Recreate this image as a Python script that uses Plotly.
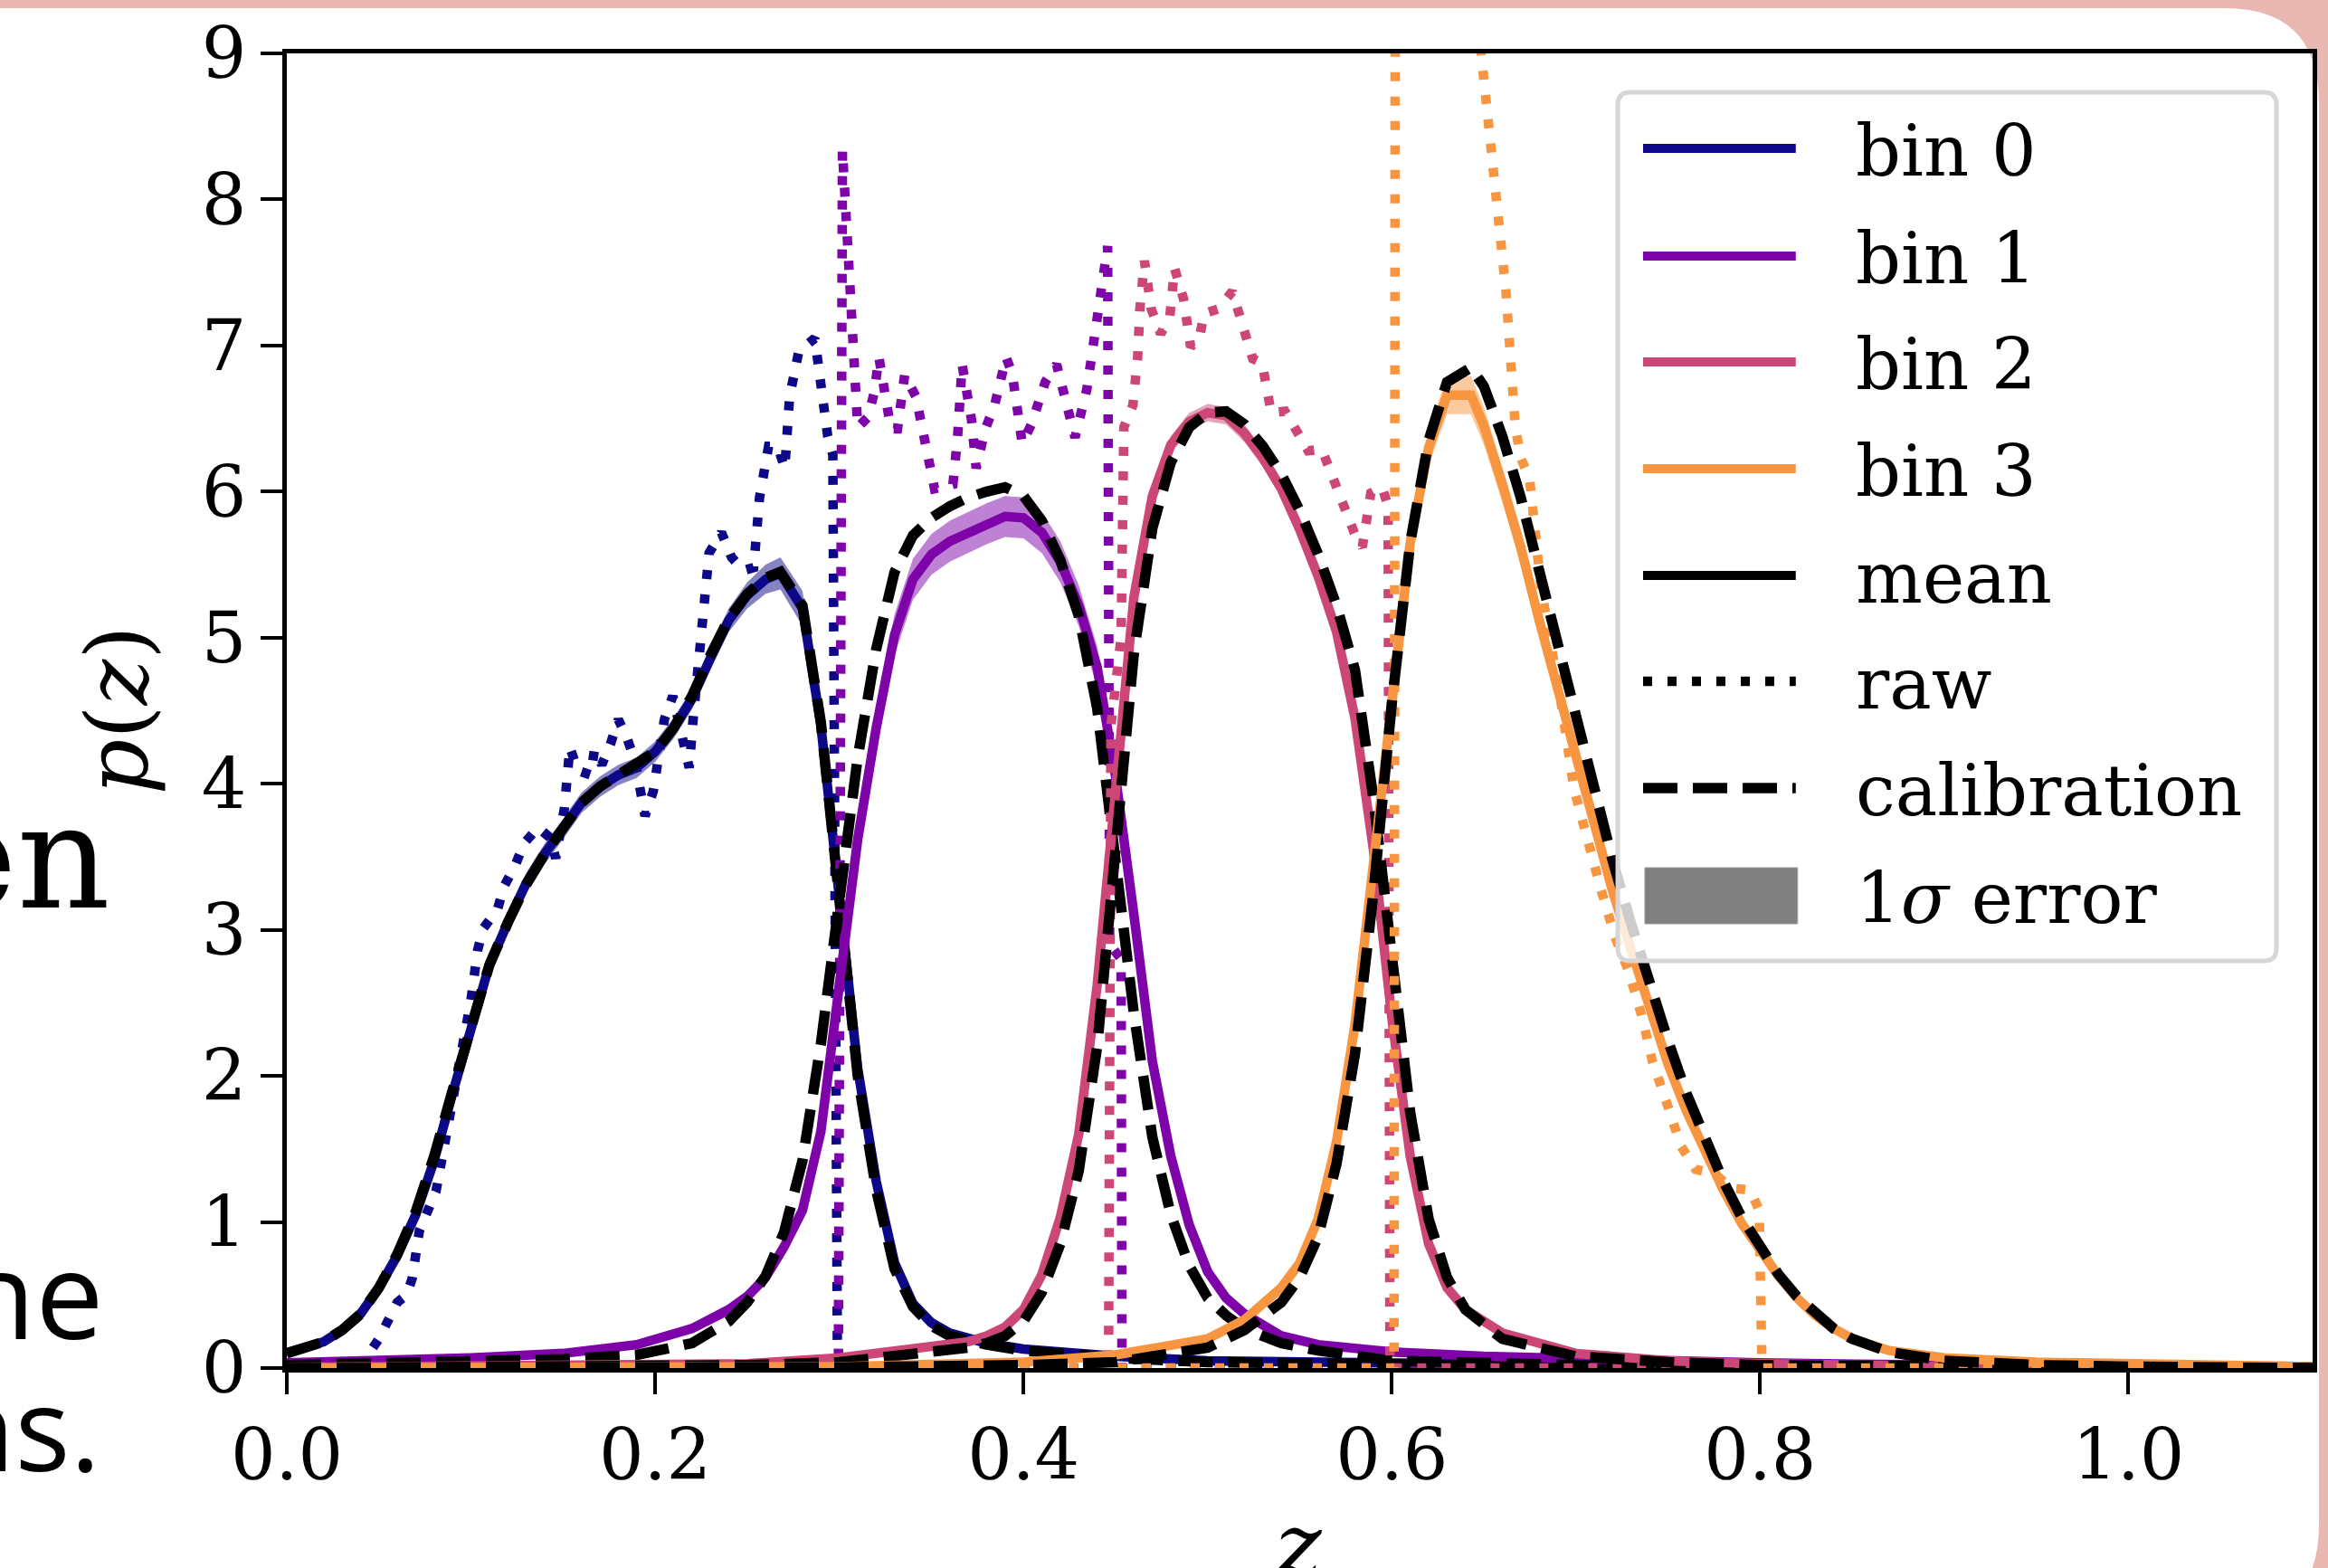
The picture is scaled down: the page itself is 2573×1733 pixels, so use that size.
import plotly.graph_objects as go

# ---------------- data ----------------
BINS = ["bin 0", "bin 1", "bin 2", "bin 3"]
COLORS = ["#0d0887", "#7e03a8", "#cc4778", "#f89540"]
BANDS = ["rgba(13,8,135,0.5)", "rgba(126,3,168,0.5)", "rgba(204,71,120,0.5)", "rgba(248,149,64,0.5)"]

# bin 0
z0 = [0.0, 0.01, 0.02, 0.03, 0.04, 0.05, 0.06, 0.07, 0.08, 0.09, 0.10, 0.11, 0.12, 0.13, 0.14, 0.15,
      0.16, 0.17, 0.18, 0.19, 0.20, 0.21, 0.22, 0.23, 0.24, 0.25, 0.26,
      0.268, 0.28, 0.29, 0.30, 0.31, 0.32, 0.33, 0.34, 0.35, 0.36,
      0.38, 0.40, 0.45, 0.50, 0.60, 0.70, 0.80, 1.10]
mean0 = [0.105, 0.14, 0.18, 0.26, 0.37, 0.55, 0.77, 1.05, 1.42, 1.88, 2.33, 2.76, 3.05, 3.32, 3.52, 3.69,
         3.87, 3.98, 4.06, 4.11, 4.22, 4.38, 4.58, 4.86, 5.12, 5.29, 5.40,
         5.44, 5.20, 4.40, 3.28, 2.05, 1.28, 0.72, 0.44, 0.31, 0.24,
         0.17, 0.13, 0.08, 0.05, 0.03, 0.02, 0.01, 0.0]
err0 = [0.03, 0.03, 0.03, 0.04, 0.05, 0.06, 0.06, 0.07, 0.07, 0.07, 0.07, 0.07, 0.07, 0.07, 0.07, 0.07,
        0.07, 0.07, 0.07, 0.07, 0.07, 0.07, 0.07, 0.08, 0.08, 0.09, 0.10,
        0.11, 0.12, 0.14, 0.14, 0.12, 0.09, 0.07, 0.05, 0.04, 0.03,
        0.02, 0.02, 0.01, 0.01, 0.0, 0.0, 0.0, 0.0]
cal0 = [0.10, 0.14, 0.18, 0.26, 0.37, 0.55, 0.78, 1.07, 1.45, 1.90, 2.35, 2.76, 3.05, 3.31, 3.52, 3.70,
        3.87, 3.98, 4.06, 4.12, 4.22, 4.38, 4.60, 4.88, 5.13, 5.30, 5.41,
        5.45, 5.22, 4.42, 3.25, 2.00, 1.22, 0.68, 0.42, 0.29, 0.22,
        0.16, 0.12, 0.07, 0.04, 0.02, 0.01, 0.005, 0.0]
rawz0 = [0.0, 0.040, 0.042, 0.050, 0.060, 0.065, 0.068, 0.072, 0.081, 0.086, 0.090, 0.0967, 0.100, 0.1036,
         0.1067, 0.1144, 0.118, 0.124, 0.1287, 0.1364, 0.143, 0.146, 0.1507, 0.1537, 0.158, 0.165, 0.167,
         0.171, 0.1757, 0.180, 0.1845, 0.189, 0.1945, 0.199, 0.205, 0.2096, 0.215, 0.2185, 0.2206, 0.224,
         0.2293, 0.236, 0.2415, 0.248, 0.2535, 0.2567, 0.2616, 0.2665, 0.2704, 0.273, 0.278, 0.2867,
         0.2906, 0.2937, 0.2965, 0.2990, 1.10]
raw0 = [0.0, 0.0, 0.05, 0.20, 0.45, 0.50, 0.61, 0.94, 1.21, 1.54, 1.87, 2.26, 2.52, 2.86,
        3.01, 3.14, 3.30, 3.44, 3.59, 3.70, 3.63, 3.49, 3.83, 4.25, 4.09, 4.06, 4.23,
        4.13, 4.27, 4.44, 4.32, 4.16, 3.78, 3.95, 4.44, 4.60, 4.32, 4.11, 4.44, 4.92,
        5.58, 5.72, 5.55, 5.46, 5.48, 5.96, 6.31, 6.31, 6.16, 6.65, 6.96, 7.05,
        6.70, 6.38, 6.25, 0.0, 0.0]

# bin 1
z1 = [0.0, 0.05, 0.10, 0.15, 0.19, 0.22, 0.24,
      0.25, 0.26, 0.27, 0.28, 0.29, 0.30, 0.31, 0.32, 0.33, 0.34, 0.35, 0.36, 0.37, 0.38, 0.39, 0.40,
      0.41, 0.42, 0.43, 0.44, 0.45, 0.46, 0.47, 0.48, 0.49, 0.50, 0.51, 0.52,
      0.54, 0.56, 0.60, 0.65, 0.70, 0.80, 0.90, 1.10]
mean1 = [0.035, 0.05, 0.07, 0.10, 0.16, 0.27, 0.40,
         0.49, 0.62, 0.83, 1.08, 1.62, 2.62, 3.62, 4.38, 5.02, 5.40, 5.57, 5.66, 5.72, 5.78, 5.83, 5.82,
         5.72, 5.52, 5.22, 4.80, 4.05, 3.10, 2.10, 1.45, 0.98, 0.66, 0.48, 0.37,
         0.22, 0.16, 0.11, 0.08, 0.06, 0.035, 0.02, 0.01]
err1 = [0.01, 0.01, 0.02, 0.02, 0.03, 0.03, 0.04,
        0.04, 0.05, 0.06, 0.07, 0.08, 0.10, 0.12, 0.13, 0.14, 0.14, 0.14, 0.14, 0.14, 0.14, 0.14, 0.14,
        0.14, 0.14, 0.14, 0.14, 0.13, 0.12, 0.10, 0.08, 0.06, 0.05, 0.04, 0.04,
        0.03, 0.02, 0.02, 0.01, 0.01, 0.01, 0.0, 0.0]
cal1 = [0.02, 0.03, 0.04, 0.06, 0.09, 0.17, 0.32,
        0.45, 0.63, 0.93, 1.42, 2.22, 3.20, 4.18, 4.92, 5.45, 5.70, 5.82, 5.90, 5.96, 6.00, 6.03, 5.97,
        5.80, 5.53, 5.15, 4.52, 3.52, 2.42, 1.58, 1.05, 0.70, 0.48, 0.36, 0.27,
        0.17, 0.12, 0.05, 0.03, 0.02, 0.01, 0.005, 0.0]
rawz1 = [0.0, 0.2995, 0.3017, 0.3066, 0.3077, 0.3100, 0.3156, 0.3190, 0.3215, 0.3240, 0.3280, 0.3316,
         0.3355, 0.3416, 0.3467, 0.3517, 0.3617, 0.3642, 0.3667, 0.3718, 0.3743, 0.3793, 0.3843, 0.3906,
         0.3940, 0.3993, 0.4043, 0.4118, 0.4180, 0.4231, 0.4280, 0.4344, 0.4393, 0.4457, 0.4468, 0.4530,
         0.4535, 1.10]
raw1 = [0.0, 0.0, 8.34, 7.10, 6.78, 6.44, 6.51, 6.68, 6.92, 6.75, 6.43, 6.43,
        6.80, 6.65, 6.33, 6.02, 6.05, 6.37, 6.87, 6.49, 6.16, 6.43, 6.59, 6.92,
        6.80, 6.33, 6.46, 6.75, 6.87, 6.59, 6.37, 6.70, 7.18, 7.68, 2.90, 2.80,
        0.0, 0.0]

# bin 2
z2 = [0.0, 0.10, 0.20, 0.25, 0.30, 0.34,
      0.37, 0.38, 0.39, 0.40, 0.41, 0.42, 0.43, 0.44, 0.45, 0.46, 0.47, 0.48, 0.49, 0.50, 0.51, 0.52,
      0.53, 0.54, 0.55, 0.56, 0.57, 0.58, 0.59, 0.60, 0.61, 0.62, 0.63, 0.64,
      0.66, 0.70, 0.75, 0.80, 0.90, 1.10]
mean2 = [0.005, 0.01, 0.02, 0.03, 0.07, 0.13,
         0.18, 0.22, 0.28, 0.40, 0.64, 1.03, 1.60, 2.62, 4.00, 5.28, 5.97, 6.32, 6.48, 6.54, 6.52, 6.40,
         6.23, 6.02, 5.74, 5.42, 5.04, 4.45, 3.55, 2.40, 1.45, 0.85, 0.55, 0.40,
         0.24, 0.10, 0.05, 0.03, 0.01, 0.0]
err2 = [0.0, 0.0, 0.01, 0.01, 0.02, 0.02,
        0.02, 0.02, 0.03, 0.03, 0.03, 0.04, 0.04, 0.05, 0.05, 0.06, 0.06, 0.06, 0.06, 0.06, 0.06, 0.06,
        0.06, 0.06, 0.06, 0.06, 0.06, 0.06, 0.06, 0.05, 0.05, 0.04, 0.03, 0.03,
        0.02, 0.01, 0.01, 0.0, 0.0, 0.0]
cal2 = [0.0, 0.005, 0.01, 0.02, 0.04, 0.09,
        0.14, 0.17, 0.22, 0.32, 0.52, 0.85, 1.35, 2.20, 3.50, 4.90, 5.75, 6.20, 6.44, 6.54, 6.55, 6.46,
        6.31, 6.12, 5.87, 5.57, 5.22, 4.78, 3.90, 2.80, 1.75, 1.02, 0.62, 0.40,
        0.20, 0.08, 0.04, 0.02, 0.01, 0.0]
rawz2 = [0.0, 0.4462, 0.4475, 0.4530, 0.4545, 0.4594, 0.4620, 0.4632, 0.4657, 0.4694, 0.4745, 0.4795,
         0.4820, 0.4869, 0.4908, 0.4957, 0.4980, 0.5057, 0.5134, 0.5206, 0.5245, 0.5296, 0.5345, 0.5420,
         0.5546, 0.5620, 0.5708, 0.5808, 0.5840, 0.5886, 0.5947, 0.5980, 0.5990, 1.10]
raw2 = [0.0, 0.0, 4.40, 5.00, 6.44, 6.59, 6.92, 7.25, 7.58, 7.25, 7.08, 7.20,
        7.53, 7.32, 6.99, 7.06, 7.22, 7.25, 7.37, 7.06, 6.91, 6.88, 6.54, 6.55,
        6.28, 6.29, 5.99, 5.68, 5.62, 5.99, 6.03, 5.90, 0.0, 0.0]

# bin 3
z3 = [0.0, 0.20, 0.30, 0.40, 0.45, 0.50, 0.52, 0.54,
      0.55, 0.56, 0.57, 0.58, 0.59, 0.60, 0.61, 0.62, 0.63, 0.643,
      0.65, 0.66, 0.67, 0.68, 0.69, 0.70, 0.71, 0.72, 0.73, 0.74, 0.75, 0.76, 0.77, 0.78, 0.79, 0.80,
      0.81, 0.82, 0.83, 0.84, 0.85, 0.87, 0.90, 0.95, 1.00, 1.10]
mean3 = [0.0, 0.005, 0.01, 0.04, 0.09, 0.20, 0.33, 0.55,
         0.72, 1.02, 1.55, 2.35, 3.45, 4.65, 5.65, 6.30, 6.66, 6.66,
         6.45, 6.05, 5.62, 5.12, 4.64, 4.16, 3.70, 3.26, 2.86, 2.46, 2.08, 1.76, 1.48, 1.22, 0.99, 0.80,
         0.63, 0.48, 0.36, 0.27, 0.20, 0.12, 0.07, 0.04, 0.025, 0.01]
err3 = [0.0, 0.0, 0.0, 0.0, 0.01, 0.02, 0.02, 0.03,
        0.03, 0.04, 0.05, 0.06, 0.08, 0.10, 0.11, 0.12, 0.13, 0.13,
        0.13, 0.12, 0.12, 0.11, 0.10, 0.09, 0.08, 0.07, 0.06, 0.05, 0.05, 0.04, 0.04, 0.03, 0.03, 0.03,
        0.02, 0.02, 0.02, 0.01, 0.01, 0.01, 0.01, 0.0, 0.0, 0.0]
cal3 = [0.0, 0.0, 0.005, 0.02, 0.04, 0.14, 0.26, 0.45,
        0.62, 0.90, 1.40, 2.15, 3.25, 4.55, 5.65, 6.35, 6.75, 6.85,
        6.72, 6.38, 5.96, 5.46, 4.96, 4.44, 3.94, 3.47, 3.04, 2.62, 2.24, 1.88, 1.56, 1.28, 1.03, 0.82,
        0.64, 0.49, 0.37, 0.27, 0.20, 0.11, 0.05, 0.02, 0.01, 0.0]
rawz3 = [0.0, 0.6012, 0.6022, 0.6495, 0.6560, 0.6620, 0.6670, 0.6700, 0.6748, 0.6780, 0.6810, 0.6860,
         0.6913, 0.6990, 0.7063, 0.7137, 0.7213, 0.7288, 0.7362, 0.7413, 0.7489, 0.7570, 0.7650, 0.7753,
         0.7845, 0.7946, 0.7995, 0.8010, 1.10]
raw3 = [0.0, 0.0, 14.6, 8.87, 8.20, 7.37, 6.45, 6.23, 6.09, 5.76, 5.35, 4.98,
        4.61, 3.96, 3.59, 3.27, 2.95, 2.71, 2.39, 2.11, 1.83, 1.52, 1.36, 1.33,
        1.23, 1.22, 1.08, 0.0, 0.0]

Z = [z0, z1, z2, z3]
MEAN = [mean0, mean1, mean2, mean3]
ERR = [err0, err1, err2, err3]
CAL = [cal0, cal1, cal2, cal3]
RAWZ = [rawz0, rawz1, rawz2, rawz3]
RAW = [raw0, raw1, raw2, raw3]

X_TICKS = [0.0, 0.2, 0.4, 0.6, 0.8, 1.0]
X_TICKTEXT = ["0.0", "0.2", "0.4", "0.6", "0.8", "1.0"]
Y_TICKS = [0, 1, 2, 3, 4, 5, 6, 7, 8, 9]

LEGEND_LABELS = ["bin 0", "bin 1", "bin 2", "bin 3", "mean", "raw", "calibration", "1<i>σ</i> error"]

# ---------------- layout geometry (pixels) ----------------
W, H = 2573, 1733
L, R, T, B = 317, 2559, 59, 1512
FONT = "DejaVu Serif"
DOT = "10px,17px"
DASH = "38px,17px"


def px(X):
    return (X - L) / (R - L)


def py(Y):
    return (B - Y) / (B - T)


def rrect(x0, y0, x1, y1, r):
    p = lambda X, Y: f"{px(X):.5f},{py(Y):.5f}"
    return (f"M {p(x0 + r, y0)} L {p(x1 - r, y0)} Q {p(x1, y0)} {p(x1, y0 + r)} "
            f"L {p(x1, y1 - r)} Q {p(x1, y1)} {p(x1 - r, y1)} L {p(x0 + r, y1)} "
            f"Q {p(x0, y1)} {p(x0, y1 - r)} L {p(x0, y0 + r)} Q {p(x0, y0)} {p(x0 + r, y0)} Z")


fig = go.Figure()

for i in range(4):
    z, m, e = Z[i], MEAN[i], ERR[i]
    upper = [a + b for a, b in zip(m, e)]
    lower = [a - b for a, b in zip(m, e)]
    fig.add_trace(go.Scatter(x=z + z[::-1], y=upper + lower[::-1], fill="toself",
                             fillcolor=BANDS[i], line=dict(width=0), mode="lines",
                             hoverinfo="skip", showlegend=False))
    fig.add_trace(go.Scatter(x=z, y=m, mode="lines", name=BINS[i],
                             line=dict(color=COLORS[i], width=10.5), showlegend=False))
    fig.add_trace(go.Scatter(x=RAWZ[i], y=RAW[i], mode="lines", name=BINS[i] + " raw",
                             line=dict(color=COLORS[i], width=10.5, dash=DOT), showlegend=False))
    fig.add_trace(go.Scatter(x=z, y=CAL[i], mode="lines", name=BINS[i] + " calibration",
                             line=dict(color="black", width=11.5, dash=DASH), showlegend=False))

shapes = []
# white slide card over pink frame
shapes.append(dict(type="path", xref="paper", yref="paper", layer="below",
                   path=rrect(-150, 9, 2566, 1790, 105),
                   fillcolor="white", line=dict(width=0)))
# legend frame
shapes.append(dict(type="path", xref="paper", yref="paper", layer="above",
                   path=rrect(1790, 102, 2519, 1062, 14),
                   fillcolor="rgba(255,255,255,0.8)", line=dict(color="#D6D6D6", width=5)))

rows = [164, 283, 400, 518, 636, 753, 871, 990]
styles = [(COLORS[0], "solid", 10), (COLORS[1], "solid", 10), (COLORS[2], "solid", 10),
          (COLORS[3], "solid", 10), ("black", "solid", 10), ("black", DOT, 10.5), ("black", DASH, 11.5)]
for (col, dash, lw), Y in zip(styles, rows[:7]):
    shapes.append(dict(type="line", xref="paper", yref="paper", layer="above",
                       x0=px(1818), x1=px(1987), y0=py(Y), y1=py(Y),
                       line=dict(color=col, width=lw, dash=dash)))
shapes.append(dict(type="rect", xref="paper", yref="paper", layer="above",
                   x0=px(1820), x1=px(1989), y0=py(959), y1=py(1021),
                   fillcolor="#808080", line=dict(color="#9a9a9a", width=1)))

annotations = []
for lab, Y in zip(LEGEND_LABELS, rows):
    annotations.append(dict(text=lab, xref="paper", yref="paper", x=px(2051), y=py(Y + 3),
                            xanchor="left", yanchor="middle", showarrow=False,
                            font=dict(family=FONT, size=78, color="black")))
# axis titles
annotations.append(dict(text="<i>p</i>(<i>z</i>)", xref="paper", yref="paper", x=px(130), y=py(785),
                        xanchor="center", yanchor="middle", textangle=-90, showarrow=False,
                        font=dict(family=FONT, size=96, color="black")))
annotations.append(dict(text="<i>z</i>", xref="paper", yref="paper", x=px(1437), y=py(1708),
                        xanchor="center", yanchor="middle", showarrow=False,
                        font=dict(family=FONT, size=96, color="black")))
# cropped slide text at the left edge
annotations.append(dict(text="en", xref="paper", yref="paper", x=px(124), y=py(947),
                        xanchor="right", yanchor="middle", showarrow=False,
                        font=dict(family="DejaVu Serif", size=160, color="black")))
annotations.append(dict(text="ne", xref="paper", yref="paper", x=px(116), y=py(1428),
                        xanchor="right", yanchor="middle", showarrow=False,
                        font=dict(family="Open Sans", size=134, color="black")))
annotations.append(dict(text="ns.", xref="paper", yref="paper", x=px(113), y=py(1576),
                        xanchor="right", yanchor="middle", showarrow=False,
                        font=dict(family="Open Sans", size=128, color="black")))

axis_common = dict(showgrid=False, zeroline=False, showline=True, linecolor="black", linewidth=5,
                   mirror=True, ticks="outside", ticklen=24, tickwidth=4, tickcolor="black",
                   tickfont=dict(family=FONT, size=78, color="black"))

fig.update_layout(
    width=W, height=H, autosize=False,
    margin=dict(l=L, r=W - R, t=T, b=H - B, pad=0),
    paper_bgcolor="#EAB8B2", plot_bgcolor="rgba(0,0,0,0)",
    showlegend=False,
    xaxis=dict(range=[0, 1.1], tickvals=X_TICKS, ticktext=X_TICKTEXT, **axis_common),
    yaxis=dict(range=[0, 9], tickvals=Y_TICKS, **axis_common),
    shapes=shapes, annotations=annotations,
)

fig.write_html("out.html")
